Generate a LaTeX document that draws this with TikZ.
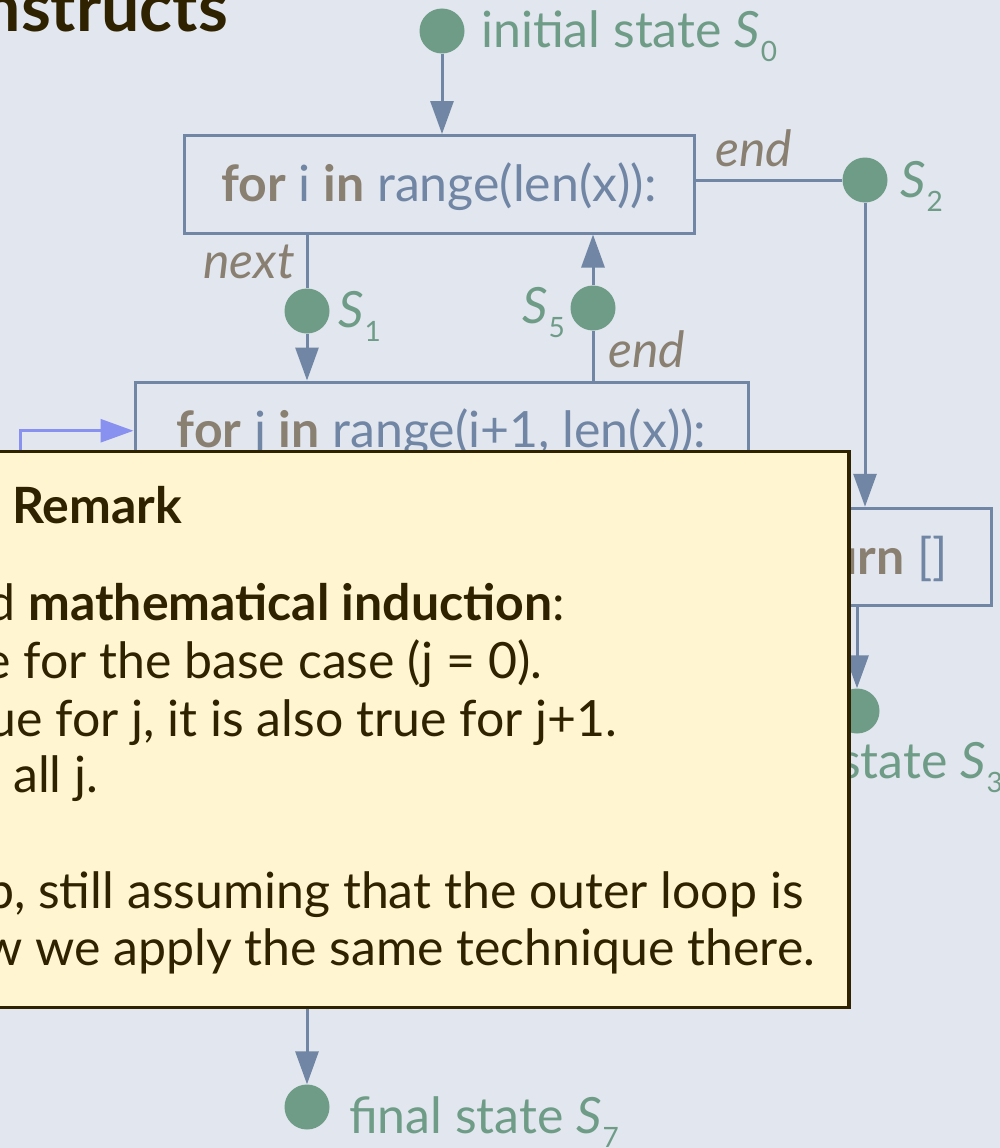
\documentclass[tikz,border=0pt]{standalone}
\usepackage{fontspec}
\setmainfont{Lato}
\usetikzlibrary{arrows.meta}
\definecolor{bgc}{HTML}{E2E6EE}
\definecolor{linec}{HTML}{7086A4}
\definecolor{greenc}{HTML}{6E9C87}
\definecolor{kwc}{HTML}{8A8072}
\definecolor{remfill}{HTML}{FFF5D0}
\definecolor{remdark}{HTML}{2F2200}
\definecolor{violetc}{HTML}{8890F0}
\newcommand{\kw}[1]{{\color{kwc}\bfseries #1}}
\newcommand{\Sst}[1]{\textit{S}\kern1pt\raisebox{-14pt}{\fontsize{28}{28}\selectfont #1}}
\tikzset{
  codebox/.style={draw=linec, line width=3pt, text=linec, inner sep=0pt,
    minimum height=97.5pt, text height=44pt, text depth=10pt,
    font=\fontsize{50}{58}\selectfont},
  statedot/.style={circle, fill=greenc, minimum size=45pt, inner sep=0pt},
  statelbl/.style={text=greenc, inner sep=0pt, font=\fontsize{50}{58}\selectfont},
  edgelbl/.style={text=kwc, inner sep=0pt, font=\fontsize{50}{58}\selectfont\itshape},
  flow/.style={draw=linec, line width=3pt, -{Triangle[length=33pt,width=23pt]}},
  plain/.style={draw=linec, line width=3pt},
  remtxt/.style={text=remdark, inner sep=0pt, anchor=base west, font=\fontsize{50}{58}\selectfont}
}
\begin{document}
\begin{tikzpicture}[x=1pt,y=-1pt]
\useasboundingbox (0,0) rectangle (1000,1148);
\clip (0,0) rectangle (1000,1148);
\fill[bgc] (0,0) rectangle (1000,1148);

% title
\node[anchor=base east, inner sep=0pt, text=remdark, font=\fontsize{68}{74}\selectfont\bfseries] (title) at (228,32) {Constructs};

% states
\node[statedot] (s0) at (442,31) {};
\node[statelbl, anchor=base west] (s0l) at (481,48) {initial state \Sst{0}};

\node[codebox, minimum width=510pt] (b1) at (439,184.25) {\kw{for} i \kw{in} range(len(x)):};
\node[statedot] (s2) at (865,180) {};
\node[statelbl, anchor=base west] (s2l) at (900,197) {\Sst{2}};
\node[edgelbl, anchor=base west] (e1) at (715,166) {end};

\node[statedot] (s1) at (307,311) {};
\node[statelbl, anchor=base west] (s1l) at (338,327) {\Sst{1}};
\node[edgelbl, anchor=base east] (nx) at (295,278) {next};

\node[statedot] (s5) at (593,308) {};
\node[statelbl, anchor=base west] (s5l) at (522,323) {\Sst{5}};
\node[edgelbl, anchor=base west] (e2) at (608,367) {end};

\node[codebox, minimum width=613pt] (b2) at (441.5,430.75) {\kw{for} j \kw{in} range(i+1, len(x)):};

\node[codebox, minimum width=268pt] (b3) at (857,557) {\kw{return} []};
\node[statedot] (s3) at (857,711) {};
\node[statelbl, anchor=base west] (s3l) at (733,778) {final state \Sst{3}};

\node[statedot] (s7) at (307,1107) {};
\node[statelbl, anchor=base west] (s7l) at (349,1133) {final state \Sst{7}};

% connectors
\draw[flow] (s0) -- (b1.north -| s0);
\draw[plain] (b1.east |- s2) -- (s2);
\draw[flow] (s2) -- (b3.north -| s2);
\draw[flow] (b3.south -| s3) -- (s3);
\draw[plain] (b1.south -| s1) -- (s1);
\draw[flow] (s1) -- (b2.north -| s1);
\draw[plain] (b2.north -| s5) -- (s5);
\draw[flow] (s5) -- (b1.south -| s5);
\coordinate (vstart) at (20,480);
\draw[draw=violetc, line width=3pt, -{Triangle[length=33pt,width=23pt]}] (vstart) |- (b2.west);
\coordinate (b2out) at (307,990);
\draw[flow] (b2out) -- (s7);

% remark box
\node[draw=remdark, fill=remfill, line width=3.5pt, inner sep=0pt, anchor=north west,
  minimum width=877pt, minimum height=556pt] (rem) at (-30,449.5) {};
\node[remtxt, font=\fontsize{50}{58}\selectfont\bfseries] (r0) at (12,523) {Remark};
\node[remtxt] (r1) at (28,620) {\llap{We used }\textbf{mathematical induction}:};
\node[remtxt] (r2) at (23,678) {\llap{It is true }for the base case (j = 0).};
\node[remtxt] (r3) at (55,736) {\llap{If it is true }for j, it is also true for j+1.};
\node[remtxt] (r4) at (13,792) {\llap{So it is true for }all j.};
\node[remtxt] (r5) at (38,908) {\llap{This proves the inner loop, }still assuming that the outer loop is};
\node[remtxt] (r6) at (35,965) {\llap{correct. Now }we apply the same technique there.};
\end{tikzpicture}
\end{document}
